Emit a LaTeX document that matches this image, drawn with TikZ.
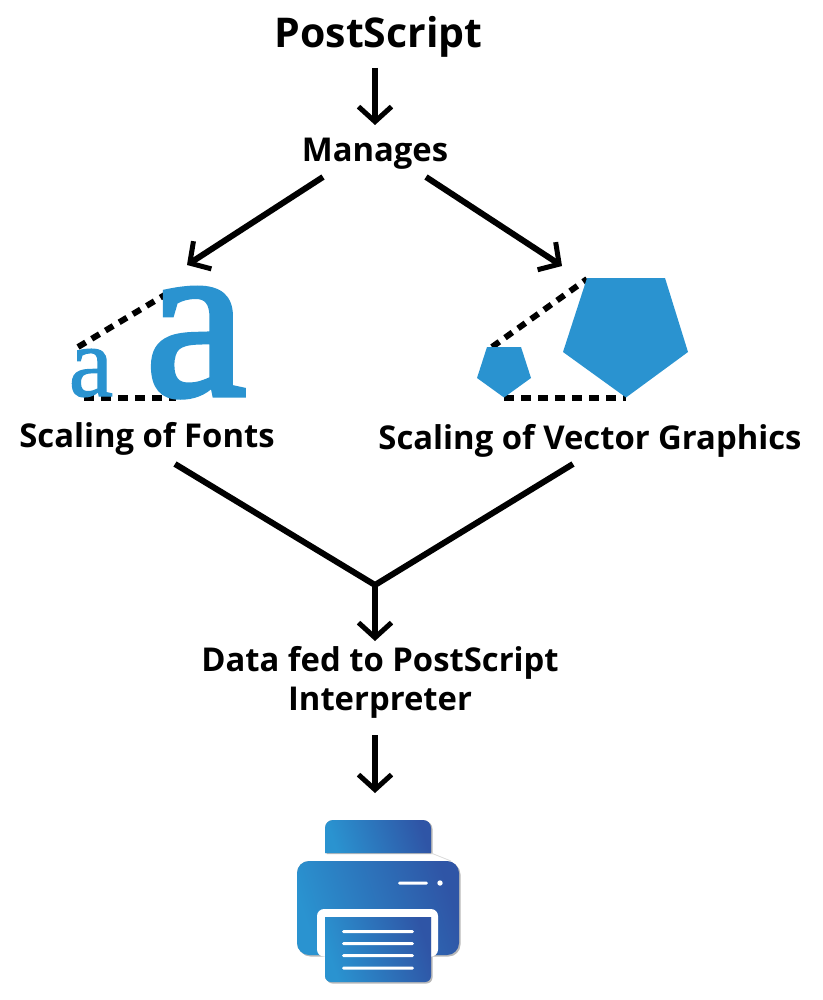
\documentclass[tikz,border=0pt]{standalone}
\usepackage{fontspec}
\setmainfont{Open Sans}
\newfontfamily\glyphserif[FakeBold=1.2]{Liberation Serif}
\newfontfamily\glyphserifbig[FakeBold=2.2]{Liberation Serif}
\usetikzlibrary{arrows.meta}
\definecolor{brandblue}{HTML}{2A93D0}
\definecolor{gradmid}{HTML}{2477BA}
\definecolor{graddark}{HTML}{2F55A6}
\tikzset{
  conn/.style={line width=6pt,black},
  arr/.style={conn,-{Straight Barb[length=15pt,width=33pt,line width=5pt]}},
  dashdiag/.style={line width=6pt,black,dash pattern=on 9pt off 7pt},
  dashhoriz/.style={line width=6pt,black,dash pattern=on 10pt off 7pt},
  lab/.style={font=\bfseries\fontsize{32.8}{39}\selectfont,inner sep=0pt,anchor=base,align=center},
  glyph/.style={inner sep=0pt,anchor=base,text=brandblue},
  pent/.style={fill=brandblue,draw=none},
  grad/.style={left color=brandblue,middle color=gradmid,right color=graddark,draw=none,shading angle=108},
  shade/.style={fill=black!28,draw=none},
  whitebar/.style={fill=white,draw=none}
}
\begin{document}
\begin{tikzpicture}[x=1pt,y=-1pt]
\useasboundingbox (0,0) rectangle (822,1000);
% labels
\node[lab,font=\bfseries\fontsize{41}{46}\selectfont] (title) at (378.5,48) {PostScript};
\node[lab] (manages) at (375,162) {Manages};
\node[lab] (sfonts) at (147,447) {Scaling of Fonts};
\node[lab] (svector) at (590,449) {Scaling of Vector Graphics};
\node[lab,anchor=center] (fed) at (380,682) {Data fed to PostScript\\Interpreter};
% connector anchor points
\coordinate (a1s) at (375,68); \coordinate (a1e) at (375,125);
\coordinate (a2s) at (323,177); \coordinate (a2e) at (187,265);
\coordinate (a3s) at (426,177); \coordinate (a3e) at (562,266);
\coordinate (ml) at (175,464); \coordinate (mr) at (573,464);
\coordinate (mj) at (375,585); \coordinate (mje) at (375,641);
\coordinate (a5s) at (375,735); \coordinate (a5e) at (375,793);
\draw[arr] (a1s) -- (a1e);
\draw[arr] (a2s) -- (a2e);
\draw[arr] (a3s) -- (a3e);
\draw[conn,line join=miter] (ml) -- (mj) -- (mr);
\draw[arr] (mj) -- (mje);
\draw[arr] (a5s) -- (a5e);
% font scaling
\coordinate (fd1) at (78,347); \coordinate (fd2) at (168,293);
\coordinate (fh1) at (84,397.5); \coordinate (fh2) at (176,397.5);
\draw[dashdiag] (fd1) -- (fd2);
\draw[dashhoriz] (fh1) -- (fh2);
\node[glyph,font=\glyphserif\fontsize{100}{100}\selectfont] (smalla) at (91,396) {a};
\node[glyph,font=\glyphserifbig\fontsize{228}{228}\selectfont] (biga) at (196,395) {a};
% vector scaling
\coordinate (vd1) at (492,347); \coordinate (vd2) at (587,279);
\coordinate (vh1) at (504,397.5); \coordinate (vh2) at (626,397.5);
\draw[dashdiag] (vd1) -- (vd2);
\draw[dashhoriz] (vh1) -- (vh2);
\fill[pent] (487,347) -- (521,347) -- (531,378) -- (504,397.5) -- (477,378) -- cycle;
\fill[pent] (587,278) -- (665,278) -- (688,352) -- (626,397.5) -- (563,352) -- cycle;
% printer
\fill[shade] (326.5,854) -- (326.5,829) arc (180:270:8) -- (424.5,821) arc (270:360:8) -- (432.5,854) -- cycle;
\shade[grad] (325,853) -- (325,828) arc (180:270:8) -- (423,820) arc (270:360:8) -- (431,853) -- cycle;
\draw[black!15,line width=0.8pt] (431,853) -- (451,861);
\fill[shade,rounded corners=12pt] (298.5,862.5) rectangle (460.5,956.5);
\shade[grad,rounded corners=12pt] (297,861) rectangle (459,955);
\fill[white,rounded corners=7pt] (317,956.5) -- (317,909) -- (438,909) -- (438,956.5) -- cycle;
\fill[shade] (326.5,957) -- (432.5,957) -- (432.5,977.5) arc (0:90:6) -- (332.5,983.5) arc (90:180:6) -- cycle;
\shade[grad] (325,917) -- (431,917) -- (431,976) arc (0:90:6) -- (331,982) arc (90:180:6) -- cycle;
\fill[whitebar,rounded corners=1.5pt] (342,930) rectangle (414,933);
\fill[whitebar,rounded corners=1.5pt] (342,942.2) rectangle (414,945.2);
\fill[whitebar,rounded corners=1.5pt] (342,954.2) rectangle (414,957.2);
\fill[whitebar,rounded corners=1.5pt] (342,966.5) rectangle (414,969.5);
\fill[whitebar,rounded corners=1.5pt] (398,881.5) rectangle (428,884.5);
\fill[whitebar] (440,883) circle (2.7);
\end{tikzpicture}
\end{document}
